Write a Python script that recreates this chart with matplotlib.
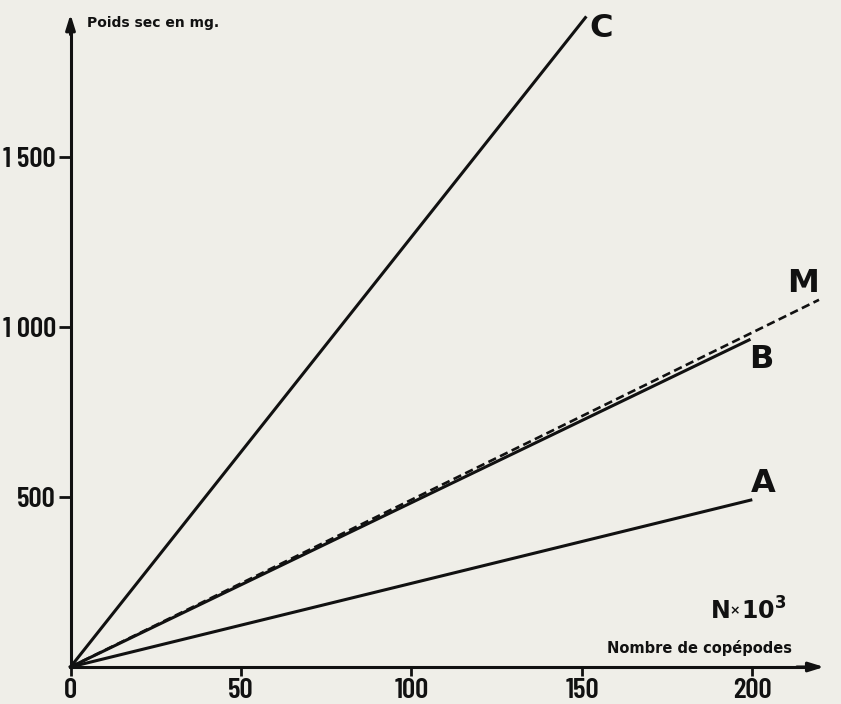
import numpy as np
import matplotlib.pyplot as plt

# droites issues de l'origine : point final de chaque droite (N x 10^3, poids sec mg)
noms = ["C", "M", "B", "A"]
x_fin = [151, 219.5, 199, 199.5]
y_fin = [1910, 1080, 962, 491]
styles = ["-", "--", "-", "-"]

x_ticks = [0, 50, 100, 150, 200]
x_labels = ["0", "50", "100", "150", "200"]
y_ticks = [500, 1000, 1500]
y_labels = ["500", "1 000", "1 500"]

# position des lettres
lab_x = [155.6, 214.8, 202.5, 203.1]
lab_y = [1879, 1129, 903, 541]

papier = "#efeee8"
encre = "#111111"
police = ["Barlow Condensed", "DejaVu Sans"]

fig = plt.figure(figsize=(8.41, 7.04), dpi=100, facecolor=papier)
ax = fig.add_axes([0, 0, 1, 1], facecolor=papier)
# 70.5 px pour x=0, 3.41 px par unité ; 667 px pour y=0, 0.34 px par mg
ax.set_xlim(-70.5 / 3.41, (841 - 70.5) / 3.41)
ax.set_ylim(-(704 - 667) / 0.34, 667 / 0.34)

for n, xf, yf, ls in zip(noms, x_fin, y_fin, styles):
    if ls == "--":
        ax.plot([0, xf], [0, yf], ls, color=encre, lw=1.9, dashes=(3.2, 1.7))
    else:
        ax.plot([0, xf], [0, yf], ls, color=encre, lw=2.2)

for n, lx, ly in zip(noms, lab_x, lab_y):
    ax.text(lx, ly, n, fontsize=23, fontweight="bold", color=encre,
            family="DejaVu Sans", ha="center", va="center")

for s in ["top", "right"]:
    ax.spines[s].set_visible(False)
ax.spines["left"].set_position(("data", 0))
ax.spines["bottom"].set_position(("data", 0))
ax.spines["left"].set_bounds(0, 1880)
ax.spines["bottom"].set_bounds(0, 215)
for s in ["left", "bottom"]:
    ax.spines[s].set_linewidth(2.2)
    ax.spines[s].set_color(encre)
fleche = dict(arrowstyle="-|>,head_length=0.9,head_width=0.28", color=encre, lw=2.2,
              shrinkA=0, shrinkB=0)
ax.annotate("", xy=(0, 1920), xytext=(0, 1860), arrowprops=fleche)
ax.annotate("", xy=(221, 0), xytext=(213, 0), arrowprops=fleche)

ax.set_xticks(x_ticks)
ax.set_xticklabels(x_labels)
ax.set_yticks(y_ticks)
ax.set_yticklabels(y_labels)
ax.tick_params(axis="both", direction="out", width=2, color=encre,
               labelsize=21, labelcolor=encre)
ax.tick_params(axis="x", length=6.5, pad=1.5)
ax.tick_params(axis="y", length=9, pad=1.5)
for t in ax.get_xticklabels() + ax.get_yticklabels():
    t.set_family(police)
    t.set_fontweight(600)

ax.text(4.8, 1894, "Poids sec en mg.", fontsize=10, fontweight="bold", color=encre,
        family="DejaVu Sans", ha="left", va="center")
ax.text(211.6, 56, "Nombre de copépodes", fontsize=10.5, fontweight="bold", color=encre,
        family="DejaVu Sans", ha="right", va="center")
# N x 10^3 : trois morceaux pour un petit signe ×
ax.text(190.8, 165, "N", fontsize=17, fontweight="bold", color=encre,
        family="DejaVu Sans", ha="center", va="center")
ax.text(194.9, 165, "×", fontsize=9, fontweight="bold", color=encre,
        family="DejaVu Sans", ha="center", va="center")
ax.text(196.6, 165, r"10$^{\mathbf{3}}$", fontsize=17, fontweight="bold", color=encre,
        family="DejaVu Sans", ha="left", va="center")

fig.savefig("out.png", dpi=100, facecolor=papier)
